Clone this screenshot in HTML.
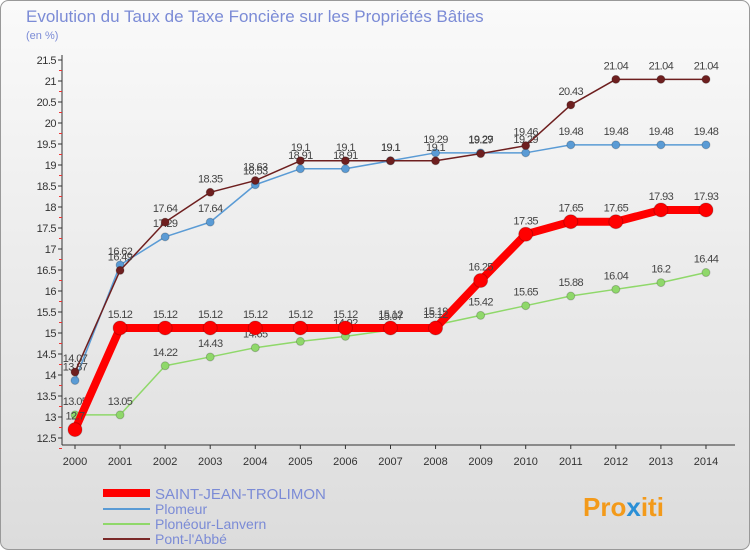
<!DOCTYPE html>
<html><head><meta charset="utf-8"><style>
body{margin:0;width:750px;height:550px;overflow:hidden;font-family:"Liberation Sans",sans-serif}
</style></head><body>
<svg width="750" height="550" xmlns="http://www.w3.org/2000/svg">
<defs><linearGradient id="bg" x1="0" y1="0" x2="0" y2="1"><stop offset="0" stop-color="#fafafa"/><stop offset="1" stop-color="#dcdcdc"/></linearGradient></defs>
<rect x="0.5" y="0.5" width="749" height="549" rx="8" fill="url(#bg)" stroke="#999"/>
<text x="26" y="22" font-size="17" fill="#7b8bd6">Evolution du Taux de Taxe Foncière sur les Propriétés Bâties</text>
<text x="26" y="39" font-size="11" fill="#7b8bd6">(en %)</text>
<g id="axes"></g><g id="series"></g>
<g>
<line x1="103" y1="493" x2="150" y2="493" stroke="#f00" stroke-width="8"/><text x="155" y="499" font-size="15" fill="#7b8bd6">SAINT-JEAN-TROLIMON</text>
<line x1="103" y1="509" x2="150" y2="509" stroke="#5a9bd5" stroke-width="2"/><text x="155" y="514" font-size="14" fill="#7b8bd6">Plomeur</text>
<line x1="103" y1="524" x2="150" y2="524" stroke="#8fd86a" stroke-width="2"/><text x="155" y="529" font-size="14" fill="#7b8bd6">Plonéour-Lanvern</text>
<line x1="103" y1="539" x2="150" y2="539" stroke="#7a2a2a" stroke-width="2"/><text x="155" y="544" font-size="14" fill="#7b8bd6">Pont-l'Abbé</text>
</g>
<text x="583" y="516" font-size="26" font-weight="bold" fill="#f39a1a">Pro<tspan fill="#2a8fd6">x</tspan>iti</text>
</svg>
<script>
const years=[2000,2001,2002,2003,2004,2005,2006,2007,2008,2009,2010,2011,2012,2013,2014];
const yTicks=[12.5,13,13.5,14,14.5,15,15.5,16,16.5,17,17.5,18,18.5,19,19.5,20,20.5,21,21.5];
const saint=[12.7,15.12,15.12,15.12,15.12,15.12,15.12,15.12,15.12,16.25,17.35,17.65,17.65,17.93,17.93];
const plomeur=[13.87,16.62,17.29,17.64,18.53,18.91,18.91,19.1,19.29,19.29,19.29,19.48,19.48,19.48,19.48];
const praneour=[13.05,13.05,14.22,14.43,14.65,14.8,14.92,15.07,15.19,15.42,15.65,15.88,16.04,16.2,16.44];
const pont=[14.07,16.49,17.64,18.35,18.63,19.1,19.1,19.1,19.1,19.27,19.46,20.43,21.04,21.04,21.04];
const NS="http://www.w3.org/2000/svg";
const X=i=>75+i*45.07, Y=v=>438-(v-12.5)*42;
function mk(t,a,p){const e=document.createElementNS(NS,t);for(const k in a)e.setAttribute(k,a[k]);p.appendChild(e);return e;}
const ax=document.getElementById('axes');
const yl=mk('line',{x1:62,y1:55,x2:62,y2:445,stroke:'#333'},ax);


const xl=mk('line',{x1:62,y1:445,x2:735,y2:445,stroke:'#333'},ax);


yTicks.forEach(v=>{mk('line',{x1:58,y1:Y(v),x2:62,y2:Y(v),stroke:'#333'},ax);
mk('line',{x1:59,y1:Y(v)+10.5,x2:62,y2:Y(v)+10.5,stroke:'#e33'},ax);
const t=mk('text',{x:56,y:Y(v)+4,'font-size':11,'text-anchor':'end',fill:'#333','letter-spacing':'-0.5'},ax);t.textContent=String(v);

});
years.forEach((y,i)=>{mk('line',{x1:X(i),y1:445,x2:X(i),y2:449,stroke:'#333'},ax);
const t=mk('text',{x:X(i),y:465,'font-size':11,'text-anchor':'middle',fill:'#333'},ax);t.textContent=y;

});
const sg=document.getElementById('series');
function draw(d,col,w,r,name){const g=mk('g',{},sg);


mk('polyline',{points:d.map((v,i)=>X(i)+','+Y(v)).join(' '),fill:'none',stroke:col,'stroke-width':w,'stroke-linejoin':'round'},g);
d.forEach((v,i)=>{mk('circle',{cx:X(i),cy:Y(v),r:r,fill:col,stroke:'rgba(0,0,0,0.2)'},g);
const t=mk('text',{x:X(i),y:Y(v)-10,'font-size':11,'text-anchor':'middle',fill:'#444','letter-spacing':'-0.6'},g);t.textContent=String(v);});}
draw(praneour,'#8fd86a',1.5,4,'series-ploneour');
draw(plomeur,'#5a9bd5',1.5,4,'series-plomeur');
draw(pont,'#6e1f1f',1.5,4,'series-pont-labbe');
draw(saint,'#f00',8,7,'series-saint-jean');
</script>
</body></html>
